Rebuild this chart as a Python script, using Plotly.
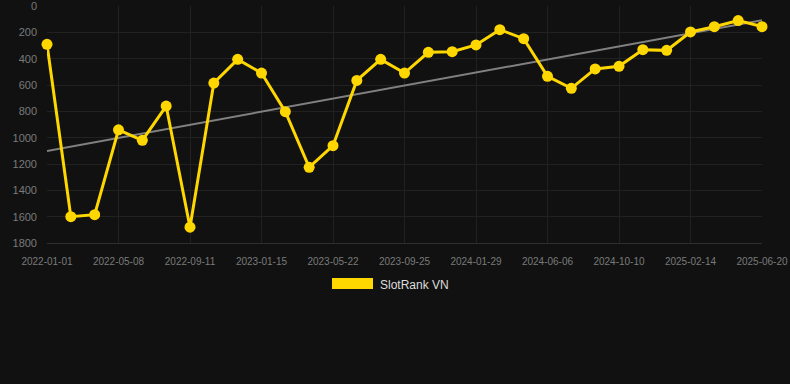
import numpy as np
import pandas as pd
import plotly.graph_objects as go

start_date = "2022-01-01"
end_date = "2025-06-20"
n_points = 31
ranks = [291, 1600, 1585, 940, 1020, 760, 1680, 585, 405, 509, 803, 1225, 1061,
         565, 405, 509, 352, 347, 296, 180, 248, 534, 625, 478, 458, 332, 337,
         197, 157, 111, 157]
tick_labels = ["2022-01-01", "2022-05-08", "2022-09-11", "2023-01-15", "2023-05-22",
               "2023-09-25", "2024-01-29", "2024-06-06", "2024-10-10", "2025-02-14",
               "2025-06-20"]
y_ticks = [0, 200, 400, 600, 800, 1000, 1200, 1400, 1600, 1800]
series_name = "SlotRank VN"

dates = pd.date_range(start_date, end_date, periods=n_points)
tick_pos = pd.date_range(start_date, end_date, periods=len(tick_labels))

# linear trend
t = (dates - dates[0]).days.values.astype(float)
coef = np.polyfit(t, ranks, 1)
trend = np.polyval(coef, t)

fig = go.Figure()
fig.add_trace(go.Scatter(x=[dates[0], dates[-1]], y=[trend[0], trend[-1]], mode="lines",
                         line=dict(color="#808080", width=2), showlegend=False,
                         hoverinfo="skip"))
fig.add_trace(go.Scatter(x=dates, y=ranks, mode="lines+markers", name=series_name,
                         line=dict(color="#FFD700", width=3),
                         marker=dict(color="#FFD700", size=11), showlegend=False,
                         cliponaxis=False))

L, R, T, B = 47, 28, 6, 141
W, H = 790, 384
pw, ph = W - L - R, H - T - B

def px(x):
    return (x - L) / pw

def py(y):
    return (H - B - y) / ph

fig.add_shape(type="rect", xref="paper", yref="paper",
              x0=px(332), x1=px(373), y0=py(289), y1=py(278),
              fillcolor="#FFD700", line=dict(width=0))
fig.add_annotation(xref="paper", yref="paper", x=px(378), y=py(284.5),
                   text=series_name, showarrow=False, xanchor="left", yanchor="middle",
                   font=dict(color="#dddddd", size=12, family="Liberation Sans, Arial"))

fig.update_layout(
    width=W, height=H,
    margin=dict(l=L, r=R, t=T, b=B),
    paper_bgcolor="#111111", plot_bgcolor="#111111",
    font=dict(family="Liberation Sans, Arial", color="#7a7a7a"),
    showlegend=False,
)
fig.update_xaxes(range=[dates[0], dates[-1]], tickvals=tick_pos, ticktext=tick_labels,
                 tickfont=dict(size=10, color="#7a7a7a"), gridcolor="#212121",
                 showline=True, linecolor="#2e2e2e", linewidth=1,
                 zeroline=False, ticks="", ticklabelstandoff=9,
                 ticklabeloverflow="allow", automargin=False)
fig.update_yaxes(range=[1800, -0.01], tickvals=y_ticks, tickfont=dict(size=11, color="#7a7a7a"),
                 gridcolor="#212121", zeroline=False, showline=False, ticks="",
                 ticklabelstandoff=9, ticklabeloverflow="allow", automargin=False)

fig.write_html("out.html", config={"displayModeBar": False},
               post_script="document.body.style.margin='0';document.body.style.background='#111111';")
